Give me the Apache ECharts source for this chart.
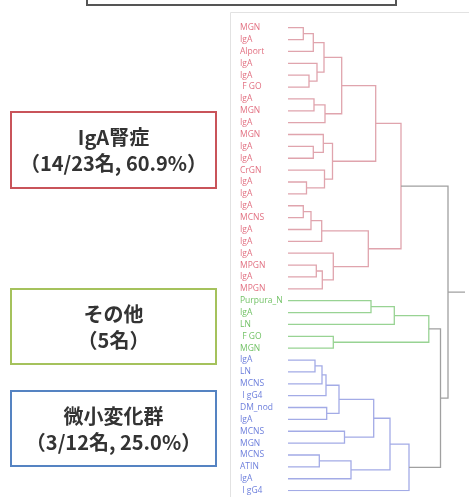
<!DOCTYPE html>
<html>
<head>
<meta charset="utf-8">
<script src="https://cdn.jsdelivr.net/npm/echarts@6/dist/echarts.min.js"></script>
<style>
  html, body { margin: 0; padding: 0; background: #fff; }
  #main { width: 469px; height: 497px; }
</style>
</head>
<body>
<div id="main"></div>
<script>
// leaf labels, top to bottom
const leaves = [
  'MGN', 'IgA', 'Alport', 'IgA', 'IgA', ' F GO', 'IgA', 'MGN', 'IgA', 'MGN',
  'IgA', 'IgA', 'CrGN', 'IgA', 'IgA', 'IgA', 'MCNS', 'IgA', 'IgA', 'IgA',
  'MPGN', 'IgA', 'MPGN',
  'Purpura_N', 'IgA', 'LN', ' F GO', 'MGN',
  'IgA', 'LN', 'MCNS', ' I gG4', 'DM_nod', 'IgA', 'MCNS', 'MGN', 'MCNS', 'ATIN',
  'IgA', ' I gG4'
];
// cluster of each leaf: 0 = red, 1 = green, 2 = blue
const leafGroup = [
  0,0,0,0,0,0,0,0,0,0,0,0,0,0,0,0,0,0,0,0,0,0,0,
  1,1,1,1,1,
  2,2,2,2,2,2,2,2,2,2,2,2
];
// merges like a linkage table: [child a, child b, height]; ids >= 40 are earlier merges
const merges = [
  [0, 1, 1.53], [40, 2, 2.53], [4, 5, 2.1], [3, 42, 2.9], [41, 43, 3.6],
  [6, 7, 2.6], [45, 8, 3.7], [44, 46, 5.37], [10, 11, 2.53], [9, 48, 3.53],
  [13, 14, 1.85], [12, 50, 3.65], [49, 51, 4.45], [47, 52, 8.77],
  [15, 16, 1.53], [54, 17, 2.3], [55, 18, 3.37], [20, 21, 2.83], [57, 22, 3.43],
  [19, 58, 4.53], [56, 59, 8.03], [53, 60, 11.3],
  [23, 24, 8.3], [62, 25, 10.63], [26, 27, 4.53], [63, 64, 14.08],
  [28, 29, 2.7], [66, 30, 3.4], [67, 31, 3.8], [32, 33, 3.87], [68, 69, 5.1],
  [34, 35, 5.65], [70, 71, 8.57], [36, 37, 3.13], [73, 38, 6.3], [72, 74, 10.2],
  [75, 39, 12.1],
  [65, 76, 15.25], [61, 77, 16.0]
];
const rootStub = 1.7;

const groupColors = ['#e0a4ad', '#98d393', '#a3abe6', '#a0a0a0'];
const labelColors = ['#e27182', '#72c266', '#6d7fdc'];

// node positions
const nodeY = leaves.map((_, i) => i);
const nodeH = leaves.map(() => 0);
const nodeG = leafGroup.slice();
const links = [];
merges.forEach(function (m) {
  const a = m[0], b = m[1], h = m[2];
  const g = nodeG[a] === nodeG[b] ? nodeG[a] : 3;
  links.push({
    coords: [[nodeH[a], nodeY[a]], [h, nodeY[a]], [h, nodeY[b]], [nodeH[b], nodeY[b]]],
    lineStyle: { color: groupColors[g] }
  });
  nodeY.push((nodeY[a] + nodeY[b]) / 2);
  nodeH.push(h);
  nodeG.push(g);
});
const root = nodeY.length - 1;
links.push({
  coords: [[nodeH[root], nodeY[root]], [nodeH[root] + rootStub, nodeY[root]]],
  lineStyle: { color: groupColors[3] }
});

const chart = echarts.init(document.getElementById('main'));

const boxes = [
  { top: 112, height: 76, color: '#c9545a', lines: ['IgA腎症', '（14/23名, 60.9%）'] },
  { top: 289, height: 75, color: '#a5c25c', lines: ['その他', '（5名）'] },
  { top: 391, height: 75, color: '#5583c2', lines: ['微小変化群', '（3/12名, 25.0%）'] }
];
const graphics = [
  { type: 'rect', shape: { x: 87, y: -20, width: 309, height: 25 },
    style: { fill: '#fff', stroke: '#555', lineWidth: 2 } },
  { type: 'rect', shape: { x: 230.5, y: 12.5, width: 245, height: 500 },
    style: { fill: 'none', stroke: '#e2e2e2', lineWidth: 1 } }
];
boxes.forEach(function (b) {
  graphics.push({
    type: 'rect', shape: { x: 11, y: b.top, width: 205, height: b.height },
    style: { fill: '#fff', stroke: b.color, lineWidth: 2 }
  });
  b.lines.forEach(function (t, k) {
    graphics.push({
      type: 'text', x: 113.5, y: b.top + 25 + k * 26,
      style: {
        text: t, fill: '#333', font: 'bold 20px "Noto Sans CJK JP", sans-serif',
        textAlign: 'center', textVerticalAlign: 'middle'
      }
    });
  });
});

chart.setOption({
  animation: false,
  grid: { left: 288, width: 180, top: 27.7, height: 462.9 },
  xAxis: {
    type: 'value', min: 0, max: 18,
    axisLine: { show: false }, axisTick: { show: false },
    axisLabel: { show: false }, splitLine: { show: false }
  },
  yAxis: {
    type: 'value', min: 0, max: leaves.length - 1, interval: 1, inverse: true,
    axisLine: { show: false }, axisTick: { show: false }, splitLine: { show: false },
    axisLabel: {
      align: 'left', margin: 48, fontSize: 8.5,
      fontFamily: '"Open Sans", sans-serif',
      formatter: function (v) { return '{g' + leafGroup[v] + '|' + leaves[v] + '}'; },
      rich: {
        g0: { color: labelColors[0], fontSize: 8.5 },
        g1: { color: labelColors[1], fontSize: 8.5 },
        g2: { color: labelColors[2], fontSize: 8.5 }
      }
    }
  },
  series: [{
    type: 'lines',
    coordinateSystem: 'cartesian2d',
    polyline: true,
    lineStyle: { width: 1.3, opacity: 1 },
    data: links
  }],
  graphic: graphics
});
</script>
</body>
</html>
